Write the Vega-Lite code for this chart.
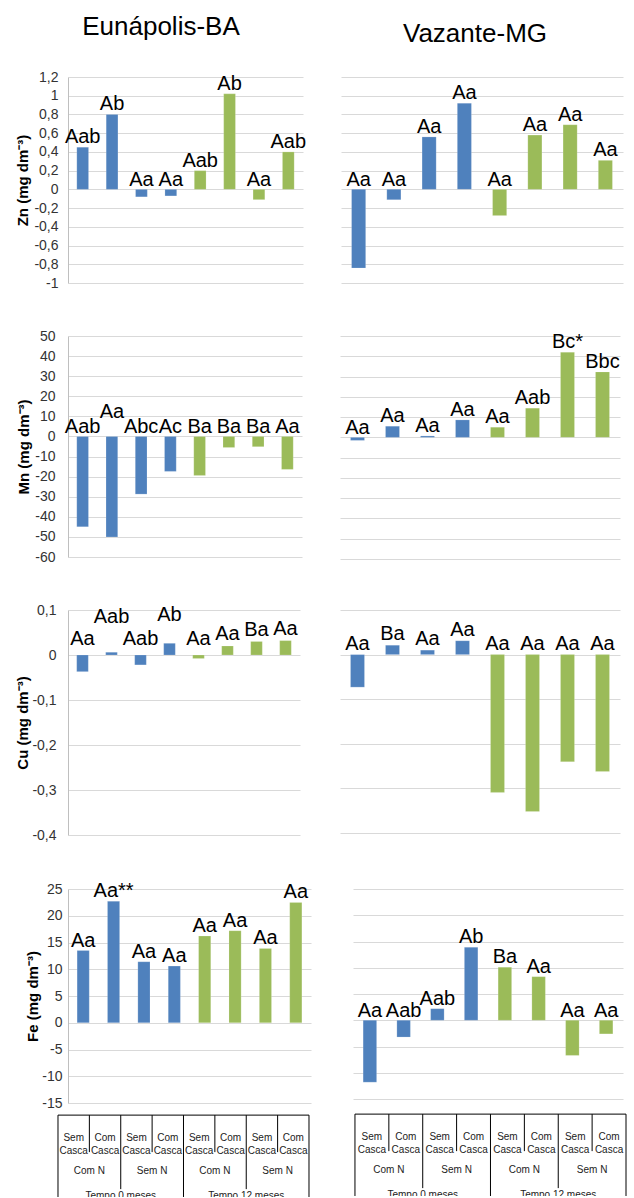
{
  "$schema": "https://vega.github.io/schema/vega-lite/v6.json",
  "padding": {"left": 15, "top": 14, "right": 0, "bottom": 0},
  "spacing": 39,
  "config": {
    "font": "Liberation Sans",
    "view": {"stroke": null},
    "title": {"fontSize": 26, "fontWeight": "normal", "color": "#000000", "offset": 30, "font": "Liberation Sans"},
    "text": {"font": "Liberation Sans", "color": "#000000"}
  },
  "datasets": {
    "bars": [
      {"s": "E", "el": "Zn", "i": 1, "t": "0", "v": 0.45, "lab": "Aab"},
      {"s": "E", "el": "Zn", "i": 2, "t": "0", "v": 0.80, "lab": "Ab"},
      {"s": "E", "el": "Zn", "i": 3, "t": "0", "v": -0.08, "lab": "Aa"},
      {"s": "E", "el": "Zn", "i": 4, "t": "0", "v": -0.07, "lab": "Aa"},
      {"s": "E", "el": "Zn", "i": 5, "t": "12", "v": 0.20, "lab": "Aab"},
      {"s": "E", "el": "Zn", "i": 6, "t": "12", "v": 1.02, "lab": "Ab"},
      {"s": "E", "el": "Zn", "i": 7, "t": "12", "v": -0.11, "lab": "Aa"},
      {"s": "E", "el": "Zn", "i": 8, "t": "12", "v": 0.40, "lab": "Aab"},
      {"s": "V", "el": "Zn", "i": 1, "t": "0", "v": -0.84, "lab": "Aa"},
      {"s": "V", "el": "Zn", "i": 2, "t": "0", "v": -0.11, "lab": "Aa"},
      {"s": "V", "el": "Zn", "i": 3, "t": "0", "v": 0.56, "lab": "Aa"},
      {"s": "V", "el": "Zn", "i": 4, "t": "0", "v": 0.92, "lab": "Aa"},
      {"s": "V", "el": "Zn", "i": 5, "t": "12", "v": -0.28, "lab": "Aa"},
      {"s": "V", "el": "Zn", "i": 6, "t": "12", "v": 0.58, "lab": "Aa"},
      {"s": "V", "el": "Zn", "i": 7, "t": "12", "v": 0.69, "lab": "Aa"},
      {"s": "V", "el": "Zn", "i": 8, "t": "12", "v": 0.31, "lab": "Aa"},
      {"s": "E", "el": "Mn", "i": 1, "t": "0", "v": -45, "lab": "Aab"},
      {"s": "E", "el": "Mn", "i": 2, "t": "0", "v": -50, "lab": "Aa"},
      {"s": "E", "el": "Mn", "i": 3, "t": "0", "v": -28.7, "lab": "Abc"},
      {"s": "E", "el": "Mn", "i": 4, "t": "0", "v": -17.4, "lab": "Ac"},
      {"s": "E", "el": "Mn", "i": 5, "t": "12", "v": -19.4, "lab": "Ba"},
      {"s": "E", "el": "Mn", "i": 6, "t": "12", "v": -5.5, "lab": "Ba"},
      {"s": "E", "el": "Mn", "i": 7, "t": "12", "v": -5.1, "lab": "Ba"},
      {"s": "E", "el": "Mn", "i": 8, "t": "12", "v": -16.4, "lab": "Aa"},
      {"s": "V", "el": "Mn", "i": 1, "t": "0", "v": -1.5, "lab": "Aa"},
      {"s": "V", "el": "Mn", "i": 2, "t": "0", "v": 5.5, "lab": "Aa"},
      {"s": "V", "el": "Mn", "i": 3, "t": "0", "v": 0.7, "lab": "Aa"},
      {"s": "V", "el": "Mn", "i": 4, "t": "0", "v": 8.6, "lab": "Aa"},
      {"s": "V", "el": "Mn", "i": 5, "t": "12", "v": 5.0, "lab": "Aa"},
      {"s": "V", "el": "Mn", "i": 6, "t": "12", "v": 14.4, "lab": "Aab"},
      {"s": "V", "el": "Mn", "i": 7, "t": "12", "v": 42, "lab": "Bc*"},
      {"s": "V", "el": "Mn", "i": 8, "t": "12", "v": 32.3, "lab": "Bbc"},
      {"s": "E", "el": "Cu", "i": 1, "t": "0", "v": -0.037, "lab": "Aa"},
      {"s": "E", "el": "Cu", "i": 2, "t": "0", "v": 0.006, "lab": "Aab"},
      {"s": "E", "el": "Cu", "i": 3, "t": "0", "v": -0.022, "lab": "Aab"},
      {"s": "E", "el": "Cu", "i": 4, "t": "0", "v": 0.026, "lab": "Ab"},
      {"s": "E", "el": "Cu", "i": 5, "t": "12", "v": -0.008, "lab": "Aa"},
      {"s": "E", "el": "Cu", "i": 6, "t": "12", "v": 0.02, "lab": "Aa"},
      {"s": "E", "el": "Cu", "i": 7, "t": "12", "v": 0.03, "lab": "Ba"},
      {"s": "E", "el": "Cu", "i": 8, "t": "12", "v": 0.032, "lab": "Aa"},
      {"s": "V", "el": "Cu", "i": 1, "t": "0", "v": -0.073, "lab": "Aa"},
      {"s": "V", "el": "Cu", "i": 2, "t": "0", "v": 0.021, "lab": "Ba"},
      {"s": "V", "el": "Cu", "i": 3, "t": "0", "v": 0.01, "lab": "Aa"},
      {"s": "V", "el": "Cu", "i": 4, "t": "0", "v": 0.031, "lab": "Aa"},
      {"s": "V", "el": "Cu", "i": 5, "t": "12", "v": -0.309, "lab": "Aa"},
      {"s": "V", "el": "Cu", "i": 6, "t": "12", "v": -0.352, "lab": "Aa"},
      {"s": "V", "el": "Cu", "i": 7, "t": "12", "v": -0.24, "lab": "Aa"},
      {"s": "V", "el": "Cu", "i": 8, "t": "12", "v": -0.262, "lab": "Aa"},
      {"s": "E", "el": "Fe", "i": 1, "t": "0", "v": 13.5, "lab": "Aa"},
      {"s": "E", "el": "Fe", "i": 2, "t": "0", "v": 22.7, "lab": "Aa**"},
      {"s": "E", "el": "Fe", "i": 3, "t": "0", "v": 11.4, "lab": "Aa"},
      {"s": "E", "el": "Fe", "i": 4, "t": "0", "v": 10.6, "lab": "Aa"},
      {"s": "E", "el": "Fe", "i": 5, "t": "12", "v": 16.2, "lab": "Aa"},
      {"s": "E", "el": "Fe", "i": 6, "t": "12", "v": 17.2, "lab": "Aa"},
      {"s": "E", "el": "Fe", "i": 7, "t": "12", "v": 13.9, "lab": "Aa"},
      {"s": "E", "el": "Fe", "i": 8, "t": "12", "v": 22.5, "lab": "Aa"},
      {"s": "V", "el": "Fe", "i": 1, "t": "0", "v": -11.8, "lab": "Aa"},
      {"s": "V", "el": "Fe", "i": 2, "t": "0", "v": -3.2, "lab": "Aab"},
      {"s": "V", "el": "Fe", "i": 3, "t": "0", "v": 2.2, "lab": "Aab"},
      {"s": "V", "el": "Fe", "i": 4, "t": "0", "v": 13.9, "lab": "Ab"},
      {"s": "V", "el": "Fe", "i": 5, "t": "12", "v": 10.1, "lab": "Ba"},
      {"s": "V", "el": "Fe", "i": 6, "t": "12", "v": 8.3, "lab": "Aa"},
      {"s": "V", "el": "Fe", "i": 7, "t": "12", "v": -6.7, "lab": "Aa"},
      {"s": "V", "el": "Fe", "i": 8, "t": "12", "v": -2.6, "lab": "Aa"}
    ],
    "casca": [
      {"c": 0.5, "lab": "Sem\nCasca"}, {"c": 1.5, "lab": "Com\nCasca"},
      {"c": 2.5, "lab": "Sem\nCasca"}, {"c": 3.5, "lab": "Com\nCasca"},
      {"c": 4.5, "lab": "Sem\nCasca"}, {"c": 5.5, "lab": "Com\nCasca"},
      {"c": 6.5, "lab": "Sem\nCasca"}, {"c": 7.5, "lab": "Com\nCasca"}
    ],
    "ngroup": [
      {"c": 1, "lab": "Com N"}, {"c": 3, "lab": "Sem N"},
      {"c": 5, "lab": "Com N"}, {"c": 7, "lab": "Sem N"}
    ],
    "tempo": [
      {"c": 2, "lab": "Tempo 0 meses"}, {"c": 6, "lab": "Tempo 12 meses"}
    ],
    "lines": [
      {"a": 0, "b": 0, "p": 0, "q": 3}, {"a": 8, "b": 8, "p": 0, "q": 3}, {"a": 0, "b": 8, "p": 0, "q": 0},
      {"a": 1, "b": 1, "p": 0, "q": 1}, {"a": 2, "b": 2, "p": 0, "q": 2}, {"a": 3, "b": 3, "p": 0, "q": 1},
      {"a": 4, "b": 4, "p": 0, "q": 3}, {"a": 5, "b": 5, "p": 0, "q": 1}, {"a": 6, "b": 6, "p": 0, "q": 2},
      {"a": 7, "b": 7, "p": 0, "q": 1}
    ]
  },
  "vconcat": [
    {
      "hconcat": [
        {
          "title": {"text": "Eunápolis-BA", "frame": "bounds"},
          "width": 235, "height": 206,
          "data": {"name": "bars"},
          "transform": [{"filter": "datum.s == 'E' && datum.el == 'Zn'"}],
          "encoding": {
            "x": {"field": "i", "type": "ordinal", "axis": null, "scale": {"paddingInner": 0.6, "paddingOuter": 0.3}},
            "y": {"field": "v", "type": "quantitative", "scale": {"domain": [-1, 1.2], "nice": false, "zero": false},
              "axis": {"values": [-1, -0.8, -0.6, -0.4, -0.2, 0, 0.2, 0.4, 0.6, 0.8, 1, 1.2], "format": "~f",
                "labelExpr": "replace(replace(datum.label, '.', ','), '\u2212', '-')",
                "title": "Zn (mg dm⁻³)", "titleFontSize": 15, "titleFontWeight": "bold", "titleColor": "#000000", "titlePadding": 3,
                "labelFontSize": 14, "labelColor": "#333333", "labelPadding": 10,
                "ticks": false, "tickSize": 0, "domainColor": "#bfbfbf", "grid": true, "gridColor": "#d9d9d9"}}
          },
          "layer": [
            {"mark": {"type": "bar", "stroke": "#ffffff", "strokeOpacity": 0.35, "strokeWidth": 0.5},
             "encoding": {"color": {"field": "t", "type": "nominal", "scale": {"domain": ["0", "12"], "range": ["#4f81bd", "#9bbb59"]}, "legend": null}}},
            {"transform": [{"filter": "datum.v >= 0"}], "mark": {"type": "text", "fontSize": 20, "dy": -4, "baseline": "alphabetic"}, "encoding": {"text": {"field": "lab"}}},
            {"transform": [{"filter": "datum.v < 0"}], "mark": {"type": "text", "fontSize": 20, "dy": -3, "baseline": "alphabetic"}, "encoding": {"y": {"datum": 0, "type": "quantitative"}, "text": {"field": "lab"}}}
          ]
        },
        {
          "title": {"text": "Vazante-MG", "dx": -7},
          "width": 282, "height": 206,
          "data": {"name": "bars"},
          "transform": [{"filter": "datum.s == 'V' && datum.el == 'Zn'"}],
          "encoding": {
            "x": {"field": "i", "type": "ordinal", "axis": null, "scale": {"paddingInner": 0.6, "paddingOuter": 0.3}},
            "y": {"field": "v", "type": "quantitative", "scale": {"domain": [-1, 1.2], "nice": false, "zero": false},
              "axis": {"values": [-1, -0.8, -0.6, -0.4, -0.2, 0, 0.2, 0.4, 0.6, 0.8, 1, 1.2], "labels": false, "ticks": false, "domain": false, "title": null, "grid": true, "gridColor": "#d9d9d9"}}
          },
          "layer": [
            {"mark": {"type": "bar", "stroke": "#ffffff", "strokeOpacity": 0.35, "strokeWidth": 0.5},
             "encoding": {"color": {"field": "t", "type": "nominal", "scale": {"domain": ["0", "12"], "range": ["#4f81bd", "#9bbb59"]}, "legend": null}}},
            {"transform": [{"filter": "datum.v >= 0"}], "mark": {"type": "text", "fontSize": 20, "dy": -4, "baseline": "alphabetic"}, "encoding": {"text": {"field": "lab"}}},
            {"transform": [{"filter": "datum.v < 0"}], "mark": {"type": "text", "fontSize": 20, "dy": -3, "baseline": "alphabetic"}, "encoding": {"y": {"datum": 0, "type": "quantitative"}, "text": {"field": "lab"}}}
          ]
        }
      ],
      "spacing": 34
    },
    {
      "hconcat": [
        {
          "width": 234, "height": 221,
          "data": {"name": "bars"},
          "transform": [{"filter": "datum.s == 'E' && datum.el == 'Mn'"}],
          "encoding": {
            "x": {"field": "i", "type": "ordinal", "axis": null, "scale": {"paddingInner": 0.6, "paddingOuter": 0.3}},
            "y": {"field": "v", "type": "quantitative", "scale": {"domain": [-60, 50], "nice": false, "zero": false},
              "axis": {"values": [-60, -50, -40, -30, -20, -10, 0, 10, 20, 30, 40, 50], "format": "~f",
                "labelExpr": "replace(replace(datum.label, '.', ','), '\u2212', '-')",
                "title": "Mn (mg dm⁻³)", "titleFontSize": 15, "titleFontWeight": "bold", "titleColor": "#000000", "titlePadding": 3,
                "labelFontSize": 14, "labelColor": "#333333", "labelPadding": 13,
                "ticks": false, "tickSize": 0, "domainColor": "#bfbfbf", "grid": true, "gridColor": "#d9d9d9"}}
          },
          "layer": [
            {"mark": {"type": "bar", "stroke": "#ffffff", "strokeOpacity": 0.35, "strokeWidth": 0.5},
             "encoding": {"color": {"field": "t", "type": "nominal", "scale": {"domain": ["0", "12"], "range": ["#4f81bd", "#9bbb59"]}, "legend": null}}},
            {"transform": [{"filter": "datum.v < 0 && datum.i != 2"}], "mark": {"type": "text", "fontSize": 20, "dy": -3, "baseline": "alphabetic"}, "encoding": {"y": {"datum": 0, "type": "quantitative"}, "text": {"field": "lab"}}},
            {"transform": [{"filter": "datum.i == 2"}], "mark": {"type": "text", "fontSize": 20, "dy": -18, "baseline": "alphabetic"}, "encoding": {"y": {"datum": 0, "type": "quantitative"}, "text": {"field": "lab"}}}
          ]
        },
        {
          "width": 280, "height": 223,
          "data": {"name": "bars"},
          "transform": [{"filter": "datum.s == 'V' && datum.el == 'Mn'"}],
          "encoding": {
            "x": {"field": "i", "type": "ordinal", "axis": null, "scale": {"paddingInner": 0.6, "paddingOuter": 0.3}},
            "y": {"field": "v", "type": "quantitative", "scale": {"domain": [-60, 50], "nice": false, "zero": false},
              "axis": {"values": [-60, -50, -40, -30, -20, -10, 0, 10, 20, 30, 40, 50], "labels": false, "ticks": false, "domain": false, "title": null, "grid": true, "gridColor": "#d9d9d9"}}
          },
          "layer": [
            {"mark": {"type": "bar", "stroke": "#ffffff", "strokeOpacity": 0.35, "strokeWidth": 0.5},
             "encoding": {"color": {"field": "t", "type": "nominal", "scale": {"domain": ["0", "12"], "range": ["#4f81bd", "#9bbb59"]}, "legend": null}}},
            {"transform": [{"filter": "datum.v >= 0"}], "mark": {"type": "text", "fontSize": 20, "dy": -4, "baseline": "alphabetic"}, "encoding": {"text": {"field": "lab"}}},
            {"transform": [{"filter": "datum.v < 0"}], "mark": {"type": "text", "fontSize": 20, "dy": -3, "baseline": "alphabetic"}, "encoding": {"y": {"datum": 0, "type": "quantitative"}, "text": {"field": "lab"}}}
          ]
        }
      ],
      "spacing": 38
    },
    {
      "hconcat": [
        {
          "width": 232, "height": 225,
          "data": {"name": "bars"},
          "transform": [{"filter": "datum.s == 'E' && datum.el == 'Cu'"}],
          "encoding": {
            "x": {"field": "i", "type": "ordinal", "axis": null, "scale": {"paddingInner": 0.6, "paddingOuter": 0.3}},
            "y": {"field": "v", "type": "quantitative", "scale": {"domain": [-0.4, 0.1], "nice": false, "zero": false},
              "axis": {"values": [-0.4, -0.3, -0.2, -0.1, 0, 0.1], "format": "~f",
                "labelExpr": "replace(replace(datum.label, '.', ','), '\u2212', '-')",
                "title": "Cu (mg dm⁻³)", "titleFontSize": 15, "titleFontWeight": "bold", "titleColor": "#000000", "titlePadding": 1,
                "labelFontSize": 14, "labelColor": "#333333", "labelPadding": 12,
                "ticks": false, "tickSize": 0, "domainColor": "#bfbfbf", "grid": true, "gridColor": "#d9d9d9"}}
          },
          "layer": [
            {"mark": {"type": "bar", "stroke": "#ffffff", "strokeOpacity": 0.35, "strokeWidth": 0.5},
             "encoding": {"color": {"field": "t", "type": "nominal", "scale": {"domain": ["0", "12"], "range": ["#4f81bd", "#9bbb59"]}, "legend": null}}},
            {"transform": [{"filter": "datum.v >= 0 && datum.i != 2 && datum.i != 4"}], "mark": {"type": "text", "fontSize": 20, "dy": -6, "baseline": "alphabetic"}, "encoding": {"text": {"field": "lab"}}},
            {"transform": [{"filter": "datum.i == 2"}], "mark": {"type": "text", "fontSize": 20, "dy": -29, "baseline": "alphabetic"}, "encoding": {"text": {"field": "lab"}}},
            {"transform": [{"filter": "datum.i == 4"}], "mark": {"type": "text", "fontSize": 20, "dy": -22, "baseline": "alphabetic"}, "encoding": {"text": {"field": "lab"}}},
            {"transform": [{"filter": "datum.v < 0"}], "mark": {"type": "text", "fontSize": 20, "dy": -10, "baseline": "alphabetic"}, "encoding": {"y": {"datum": 0, "type": "quantitative"}, "text": {"field": "lab"}}}
          ]
        },
        {
          "width": 280, "height": 223,
          "data": {"name": "bars"},
          "transform": [{"filter": "datum.s == 'V' && datum.el == 'Cu'"}],
          "encoding": {
            "x": {"field": "i", "type": "ordinal", "axis": null, "scale": {"paddingInner": 0.6, "paddingOuter": 0.3}},
            "y": {"field": "v", "type": "quantitative", "scale": {"domain": [-0.4, 0.1], "nice": false, "zero": false},
              "axis": {"values": [-0.4, -0.3, -0.2, -0.1, 0, 0.1], "labels": false, "ticks": false, "domain": false, "title": null, "grid": true, "gridColor": "#d9d9d9"}}
          },
          "layer": [
            {"mark": {"type": "bar", "stroke": "#ffffff", "strokeOpacity": 0.35, "strokeWidth": 0.5},
             "encoding": {"color": {"field": "t", "type": "nominal", "scale": {"domain": ["0", "12"], "range": ["#4f81bd", "#9bbb59"]}, "legend": null}}},
            {"transform": [{"filter": "datum.v >= 0"}], "mark": {"type": "text", "fontSize": 20, "dy": -5, "baseline": "alphabetic"}, "encoding": {"text": {"field": "lab"}}},
            {"transform": [{"filter": "datum.v < 0"}], "mark": {"type": "text", "fontSize": 20, "dy": -5, "baseline": "alphabetic"}, "encoding": {"y": {"datum": 0, "type": "quantitative"}, "text": {"field": "lab"}}}
          ]
        }
      ],
      "spacing": 40
    },
    {
      "hconcat": [
        {
          "vconcat": [
            {
              "width": 243, "height": 214,
              "data": {"name": "bars"},
              "transform": [{"filter": "datum.s == 'E' && datum.el == 'Fe'"}],
              "encoding": {
                "x": {"field": "i", "type": "ordinal", "axis": null, "scale": {"paddingInner": 0.6, "paddingOuter": 0.3}},
                "y": {"field": "v", "type": "quantitative", "scale": {"domain": [-15, 25], "nice": false, "zero": false},
                  "axis": {"values": [-15, -10, -5, 0, 5, 10, 15, 20, 25], "format": "~f",
                    "labelExpr": "replace(replace(datum.label, '.', ','), '\u2212', '-')",
                    "title": "Fe (mg dm⁻³)", "titleFontSize": 15, "titleFontWeight": "bold", "titleColor": "#000000", "titlePadding": 1,
                    "labelFontSize": 14, "labelColor": "#333333", "labelPadding": 6,
                    "ticks": false, "tickSize": 0, "domainColor": "#bfbfbf", "grid": true, "gridColor": "#d9d9d9"}}
              },
              "layer": [
                {"mark": {"type": "bar", "stroke": "#ffffff", "strokeOpacity": 0.35, "strokeWidth": 0.5},
                 "encoding": {"color": {"field": "t", "type": "nominal", "scale": {"domain": ["0", "12"], "range": ["#4f81bd", "#9bbb59"]}, "legend": null}}},
                {"transform": [{"filter": "datum.v >= 0"}], "mark": {"type": "text", "fontSize": 20, "dy": -4, "baseline": "alphabetic"}, "encoding": {"text": {"field": "lab"}}},
                {"transform": [{"filter": "datum.v < 0"}], "mark": {"type": "text", "fontSize": 20, "dy": -3, "baseline": "alphabetic"}, "encoding": {"y": {"datum": 0, "type": "quantitative"}, "text": {"field": "lab"}}}
              ]
            },
            {
              "width": 243, "height": 83,
              "layer": [
                {"data": {"name": "lines"}, "mark": {"type": "rule", "color": "#000000", "strokeWidth": 1},
                 "encoding": {
                   "x": {"field": "a", "type": "quantitative", "axis": null, "scale": {"domain": [0.319, 8.064], "nice": false, "zero": false}},
                   "x2": {"field": "b"},
                   "y": {"field": "p", "type": "quantitative", "axis": null, "scale": {"domain": [-0.03, 2.213], "nice": false, "zero": false, "reverse": true, "clamp": true}},
                   "y2": {"field": "q"}}},
                {"data": {"name": "casca"}, "mark": {"type": "text", "fontSize": 10, "lineBreak": "\n", "lineHeight": 13, "baseline": "middle", "dy": 4, "color": "#222222"},
                 "encoding": {"x": {"field": "c", "type": "quantitative"}, "y": {"datum": 0.5, "type": "quantitative"}, "text": {"field": "lab"}}},
                {"data": {"name": "ngroup"}, "mark": {"type": "text", "fontSize": 10, "baseline": "middle", "color": "#222222"},
                 "encoding": {"x": {"field": "c", "type": "quantitative"}, "y": {"datum": 1.5, "type": "quantitative"}, "text": {"field": "lab"}}},
                {"data": {"name": "tempo"}, "mark": {"type": "text", "fontSize": 10, "baseline": "top", "dy": 2, "color": "#222222", "clip": true},
                 "encoding": {"x": {"field": "c", "type": "quantitative"}, "y": {"datum": 2, "type": "quantitative"}, "text": {"field": "lab"}}}
              ]
            }
          ],
          "spacing": 11,
          "bounds": "flush"
        },
        {
          "vconcat": [
            {
              "width": 270, "height": 210,
              "data": {"name": "bars"},
              "transform": [{"filter": "datum.s == 'V' && datum.el == 'Fe'"}],
              "encoding": {
                "x": {"field": "i", "type": "ordinal", "axis": null, "scale": {"paddingInner": 0.6, "paddingOuter": 0.3}},
                "y": {"field": "v", "type": "quantitative", "scale": {"domain": [-15, 25], "nice": false, "zero": false},
                  "axis": {"values": [-15, -10, -5, 0, 5, 10, 15, 20, 25], "labels": false, "ticks": false, "domain": false, "title": null, "grid": true, "gridColor": "#d9d9d9"}}
              },
              "layer": [
                {"mark": {"type": "bar", "stroke": "#ffffff", "strokeOpacity": 0.35, "strokeWidth": 0.5},
                 "encoding": {"color": {"field": "t", "type": "nominal", "scale": {"domain": ["0", "12"], "range": ["#4f81bd", "#9bbb59"]}, "legend": null}}},
                {"transform": [{"filter": "datum.v >= 0"}], "mark": {"type": "text", "fontSize": 20, "dy": -4, "baseline": "alphabetic"}, "encoding": {"text": {"field": "lab"}}},
                {"transform": [{"filter": "datum.v < 0"}], "mark": {"type": "text", "fontSize": 20, "dy": -3, "baseline": "alphabetic"}, "encoding": {"y": {"datum": 0, "type": "quantitative"}, "text": {"field": "lab"}}}
              ]
            },
            {
              "width": 273, "height": 83,
              "layer": [
                {"data": {"name": "lines"}, "mark": {"type": "rule", "color": "#000000", "strokeWidth": 1},
                 "encoding": {
                   "x": {"field": "a", "type": "quantitative", "axis": null, "scale": {"domain": [-0.058, 8.0], "nice": false, "zero": false}},
                   "x2": {"field": "b"},
                   "y": {"field": "p", "type": "quantitative", "axis": null, "scale": {"domain": [-0.03, 2.213], "nice": false, "zero": false, "reverse": true, "clamp": true}},
                   "y2": {"field": "q"}}},
                {"data": {"name": "casca"}, "mark": {"type": "text", "fontSize": 10, "lineBreak": "\n", "lineHeight": 13, "baseline": "middle", "dy": 4, "color": "#222222"},
                 "encoding": {"x": {"field": "c", "type": "quantitative"}, "y": {"datum": 0.5, "type": "quantitative"}, "text": {"field": "lab"}}},
                {"data": {"name": "ngroup"}, "mark": {"type": "text", "fontSize": 10, "baseline": "middle", "color": "#222222"},
                 "encoding": {"x": {"field": "c", "type": "quantitative"}, "y": {"datum": 1.5, "type": "quantitative"}, "text": {"field": "lab"}}},
                {"data": {"name": "tempo"}, "mark": {"type": "text", "fontSize": 10, "baseline": "top", "dy": 2, "color": "#222222", "clip": true},
                 "encoding": {"x": {"field": "c", "type": "quantitative"}, "y": {"datum": 2, "type": "quantitative"}, "text": {"field": "lab"}}}
              ]
            }
          ],
          "spacing": 14,
          "bounds": "flush"
        }
      ],
      "spacing": 42
    }
  ]
}
